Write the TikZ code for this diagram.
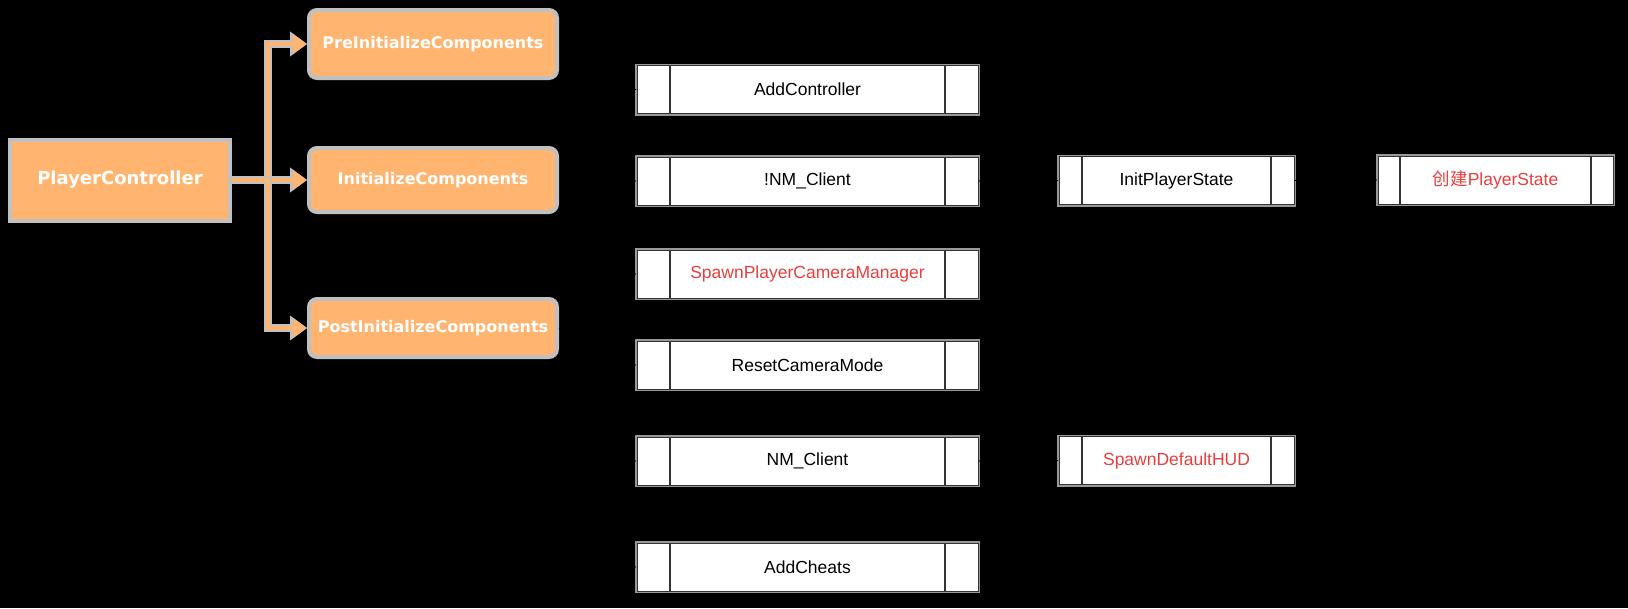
\documentclass[tikz,border=0pt]{standalone}
\usepackage{fontspec}
\setmainfont{Liberation Sans}
\newfontfamily\verdana{DejaVu Sans}
\newfontfamily\cjk{Noto Sans CJK SC}
\usetikzlibrary{arrows.meta}
\definecolor{orangefill}{RGB}{255,181,112}
\definecolor{flowgray}{RGB}{192,192,192}
\definecolor{redtext}{RGB}{234,62,62}
\tikzset{
  callbox/.style={fill=orangefill,draw=flowgray,line width=4pt,text=white,inner sep=0pt,
    font=\verdana\bfseries\fontsize{16}{19}\selectfont},
  procbox/.style={fill=white,draw=black!80,line width=1pt,inner sep=0pt,minimum height=48pt,
    preaction={draw=gray!80,line width=4pt},font=\fontsize{17.5}{21}\selectfont,
    path picture={\draw[black!80,line width=1.2pt]
      ([xshift=#1]path picture bounding box.north west) -- ([xshift=#1]path picture bounding box.south west)
      ([xshift=-#1]path picture bounding box.north east) -- ([xshift=-#1]path picture bounding box.south east);}},
  flow/.style={draw=orangefill,line width=4.5pt,line join=miter,-{Triangle[length=14pt,width=19pt]},
    preaction={draw=flowgray,line width=7.5pt,-{Triangle[length=17pt,width=24pt]}}},
  callflow/.style={draw=black,line width=1pt,-{Triangle[length=6pt,width=5pt]}}
}
\begin{document}
\begin{tikzpicture}[x=1pt,y=-1pt]
    \useasboundingbox (0,0) rectangle (1628,608);
    \fill[black] (0,0) rectangle (1628,608);

    % Controller and its init phases
    \node[callbox,minimum width=220pt,minimum height=81pt,font=\verdana\bfseries\fontsize{18}{21}\selectfont] (pc) at (120,180) {PlayerController};
    \node[callbox,rounded corners=8pt,minimum width=248pt,minimum height=68pt] (pre) at (433,44) {PreInitializeComponents};
    \node[callbox,rounded corners=8pt,minimum width=248pt,minimum height=64pt] (init) at (433,180) {InitializeComponents};
    \node[callbox,rounded corners=8pt,minimum width=248pt,minimum height=58pt] (post) at (433,328) {PostInitializeComponents};

    % Calls made in PostInitializeComponents
    \node[procbox=33pt,minimum width=341pt] (addctrl) at (807.5,89.5) {AddController};
    \node[procbox=33pt,minimum width=341pt] (notclient) at (807.5,181) {!NM\_Client};
    \node[procbox=33pt,minimum width=341pt,text=redtext] (spawncam) at (807.5,274) {SpawnPlayerCameraManager};
    \node[procbox=33pt,minimum width=341pt] (resetcam) at (807.5,365) {ResetCameraMode};
    \node[procbox=33pt,minimum width=341pt] (nmclient) at (807.5,461) {NM\_Client};
    \node[procbox=33pt,minimum width=341pt] (addcheats) at (807.5,567) {AddCheats};

    \node[procbox=23pt,minimum width=235pt] (initps) at (1176.5,180.5) {InitPlayerState};
    \node[procbox=23pt,minimum width=235pt,text=redtext] (spawnhud) at (1176.5,460.5) {SpawnDefaultHUD};
    \node[procbox=22pt,minimum width=235pt,text=redtext] (createps) at (1495.5,180) {{\cjk 创建}PlayerState};

    % Orange arrows
    \draw[flow] (pc.east) -- ++(36,0) |- (pre.west);
    \draw[flow] (pc.east) -- (init.west);
    \draw[flow] (pc.east) -- ++(36,0) |- (post.west);

    % Call connectors
    \foreach \callee in {addctrl,notclient,spawncam,resetcam,nmclient,addcheats}
      \draw[callflow] (post.east) -- ++(22,0) |- (\callee.west);
    \draw[callflow] (notclient.east) -- (initps.west);
    \draw[callflow] (initps.east) -- (createps.west);
    \draw[callflow] (nmclient.east) -- (spawnhud.west);
  \end{tikzpicture}
\end{document}
